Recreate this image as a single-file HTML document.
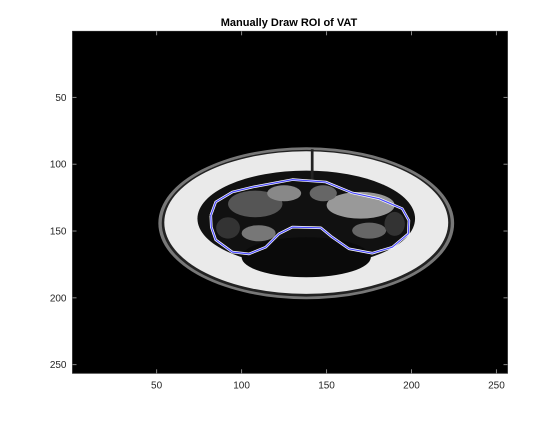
<!DOCTYPE html>
<html><head><meta charset="utf-8"><style>
body{margin:0;background:#fff;}
svg text{font-family:"Liberation Sans",Arial,sans-serif;}
</style></head><body>
<svg width="560" height="420" viewBox="0 0 560 420">
<rect width="560" height="420" fill="#fff"/>
<text x="289" y="26" text-anchor="middle" font-size="11" font-weight="bold" fill="#000">Manually Draw ROI of VAT</text>
<rect x="72.5" y="31.3" width="435" height="342" fill="#000"/>
<g id="img" transform="translate(71.65,30.63) scale(1.7,1.333)">
  <ellipse cx="138" cy="144.5" rx="87" ry="57" fill="#777"/>
  <ellipse cx="138" cy="144.5" rx="85" ry="55" fill="#222"/>
  <ellipse cx="138" cy="144" rx="83.5" ry="53.5" fill="#eaeaea"/>
  <ellipse cx="138" cy="141" rx="64" ry="36" fill="#111"/>
  <ellipse cx="138" cy="170" rx="38" ry="15" fill="#0a0a0a"/>
  <ellipse cx="108" cy="130" rx="16" ry="10" fill="#555"/>
  <ellipse cx="170" cy="131" rx="20" ry="10" fill="#999"/>
  <ellipse cx="125" cy="122" rx="10" ry="6" fill="#888"/>
  <ellipse cx="148" cy="122" rx="8" ry="6" fill="#666"/>
  <ellipse cx="92" cy="148" rx="7" ry="8" fill="#333"/>
  <ellipse cx="110" cy="152" rx="10" ry="6" fill="#777"/>
  <ellipse cx="175" cy="150" rx="10" ry="6" fill="#666"/>
  <ellipse cx="190" cy="145" rx="6" ry="9" fill="#333"/>
  <rect x="140.7" y="89" width="1.6" height="24" fill="#222"/>
</g>
<polyline id="roi" fill="none" stroke="#fff" stroke-width="2.6" stroke-linejoin="round"/>
<polyline id="roi2" fill="none" stroke="#4b4bff" stroke-width="1.2" stroke-linejoin="round"/>
<g stroke="#262626" fill="none" stroke-width="0.8">
  <rect x="72.5" y="31.3" width="435" height="342"/>
</g>
<g id="xt" font-size="10" fill="#262626"></g>
<g id="yt" font-size="10" fill="#262626"></g>
</svg>
<script>
const xTicks=[50,100,150,200,250];
const yTicks=[50,100,150,200,250];
const roiX=[81.9,84.8,94.6,106.4,129.9,149.5,165.2,180.9,194.6,198.5,198.1,188.7,176.9,163.2,153.4,146.6,129.9,122,114.2,104.4,94.6,84.8,82.2,81.9];
const roiY=[138.3,128.3,120.8,117.1,111.5,113.3,121.5,125.8,133.3,142.1,152.1,162.1,166.6,163.3,154.6,147.6,147.1,152.1,162.1,167.1,165.8,156.6,147.1,138.3];
const L=72.5,T=31.3,R=507.5,B=373.3;
function sx(v){return L+(v-0.5)*(R-L)/256;}
function sy(v){return T+(v-0.5)*(B-T)/256;}
const ns="http://www.w3.org/2000/svg";
const pts=roiX.map((x,i)=>sx(x).toFixed(1)+","+sy(roiY[i]).toFixed(1)).join(" ");
document.getElementById('roi').setAttribute('points',pts);
document.getElementById('roi2').setAttribute('points',pts);
const xt=document.getElementById('xt'),yt=document.getElementById('yt');
xTicks.forEach(v=>{
 const x=sx(v);
 const l1=document.createElementNS(ns,'line');
 l1.setAttribute('x1',x);l1.setAttribute('x2',x);l1.setAttribute('y1',B);l1.setAttribute('y2',B-4);l1.setAttribute('stroke','#888');
 
 
 xt.appendChild(l1);
 const l2=document.createElementNS(ns,'line');
 l2.setAttribute('x1',x);l2.setAttribute('x2',x);l2.setAttribute('y1',T);l2.setAttribute('y2',T+4);l2.setAttribute('stroke','#888');
 
 
 xt.appendChild(l2);
 const t=document.createElementNS(ns,'text');
 t.setAttribute('x',x);t.setAttribute('y',B+15);t.setAttribute('text-anchor','middle');t.textContent=v;
 
 
 xt.appendChild(t);
});
yTicks.forEach(v=>{
 const y=sy(v);
 const l1=document.createElementNS(ns,'line');
 l1.setAttribute('x1',L);l1.setAttribute('x2',L+4);l1.setAttribute('y1',y);l1.setAttribute('y2',y);l1.setAttribute('stroke','#888');
 
 
 yt.appendChild(l1);
 const l2=document.createElementNS(ns,'line');
 l2.setAttribute('x1',R);l2.setAttribute('x2',R-4);l2.setAttribute('y1',y);l2.setAttribute('y2',y);l2.setAttribute('stroke','#888');
 
 
 yt.appendChild(l2);
 const t=document.createElementNS(ns,'text');
 t.setAttribute('x',L-6);t.setAttribute('y',y+3.5);t.setAttribute('text-anchor','end');t.textContent=v;
 
 
 yt.appendChild(t);
});
</script>
</body></html>
